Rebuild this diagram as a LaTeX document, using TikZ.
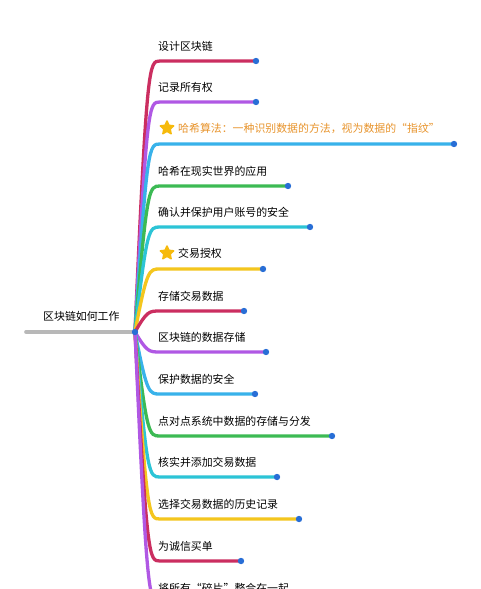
\documentclass[tikz,border=0pt]{standalone}
\usepackage{fontspec}
\setmainfont{Noto Sans CJK SC}
\usetikzlibrary{shapes.geometric}
\definecolor{brCrimson}{RGB}{203,46,96}
\definecolor{brPurple}{RGB}{176,88,228}
\definecolor{brSky}{RGB}{56,178,234}
\definecolor{brGreen}{RGB}{60,186,84}
\definecolor{brTeal}{RGB}{44,196,214}
\definecolor{brYellow}{RGB}{244,198,30}
\definecolor{hashOrange}{RGB}{232,148,44}
\definecolor{starGold}{RGB}{246,186,12}
\definecolor{dotBlue}{RGB}{40,110,214}
\definecolor{rootGray}{RGB}{184,184,184}

\begin{document}
\begin{tikzpicture}[x=1pt, y=-1pt,
  label/.style={anchor=west, inner sep=0pt, font=\fontsize{10.9}{12}\selectfont},
  branch/.style={line width=3.3pt, line cap=round},
  staricon/.style={star, star points=5, star point ratio=2.1, fill=starGold, draw=starGold, line width=1.5pt, line join=round, minimum size=14pt, inner sep=0pt}]
\useasboundingbox (0,0) rectangle (480,589);
\clip (0,0) rectangle (480,589);
\fill[white] (0,0) rectangle (480,589);
% root
\coordinate (root) at (135,332);
\coordinate (rootEnd) at (26,332);
\node[label] (rootText) at (43,316) {区块链如何工作};
\draw[rootGray, line width=3.6pt, line cap=round] (rootEnd) -- (root);
% branches
\foreach \n/\y/\e/\c/\s/\f/\t in {
  1/61/256/brCrimson/0/black/设计区块链,
  2/102/256/brPurple/0/black/记录所有权,
  3/144/454/brSky/1/hashOrange/哈希算法：一种识别数据的方法，视为数据的“指纹”,
  4/186/288/brGreen/0/black/哈希在现实世界的应用,
  5/227/310/brTeal/0/black/确认并保护用户账号的安全,
  6/269/263/brYellow/1/black/交易授权,
  7/311/244/brCrimson/0/black/存储交易数据,
  8/352/266/brPurple/0/black/区块链的数据存储,
  9/394/255/brSky/0/black/保护数据的安全,
  10/436/332/brGreen/0/black/点对点系统中数据的存储与分发,
  11/477/277/brTeal/0/black/核实并添加交易数据,
  12/519/299/brYellow/0/black/选择交易数据的历史记录,
  13/561/241/brCrimson/0/black/为诚信买单,
  14/603/300/brPurple/0/black/将所有“碎片”整合在一起}
{
  \coordinate (k\n) at (160,\y);
  \coordinate (e\n) at (\e,\y);
  \draw[branch, \c] (root) .. controls (147,\y) and (149,\y) .. (k\n) -- (e\n);
  \fill[dotBlue] (e\n) circle (3.2pt);
  \ifnum\s=1
    \node[staricon] (s\n) at (167,\y-16) {};
    \node[label, text=\f] (t\n) at (178,\y-16) {\t};
  \else
    \node[label, text=\f] (t\n) at (158,\y-15) {\t};
  \fi
}
\fill[dotBlue] (root) circle (3.2pt);
\end{tikzpicture}
\end{document}
